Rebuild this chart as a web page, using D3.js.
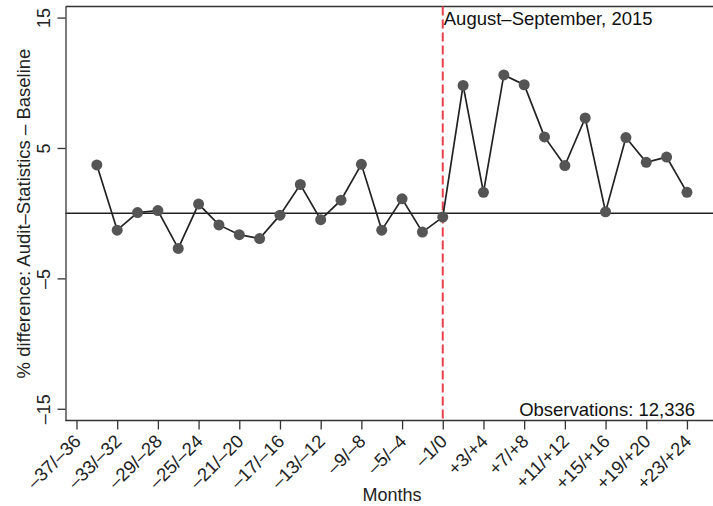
<!DOCTYPE html>
<html>
<head>
<meta charset="utf-8">
<script src="https://cdn.jsdelivr.net/npm/d3@7"></script>
<style>
  body { margin: 0; background: #fff; }
  svg { font-family: "Liberation Sans", Arial, sans-serif; }
</style>
</head>
<body>
<div class="canvas"></div>
<script>
// bimonthly periods relative to the Aug-Sep 2015 event
const periods = [
  "–37/–36", "–35/–34", "–33/–32", "–31/–30", "–29/–28", "–27/–26",
  "–25/–24", "–23/–22", "–21/–20", "–19/–18", "–17/–16", "–15/–14",
  "–13/–12", "–11/–10", "–9/–8", "–7/–6", "–5/–4", "–3/–2", "–1/0",
  "+1/+2", "+3/+4", "+5/+6", "+7/+8", "+9/+10", "+11/+12", "+13/+14",
  "+15/+16", "+17/+18", "+19/+20", "+21/+22", "+23/+24"
];

// % difference, starting at -35/-34 (no value for -37/-36)
const diffValues = [
  3.7, -1.3, 0.05, 0.2, -2.7, 0.7, -0.9, -1.65, -1.95, -0.15, 2.2, -0.5,
  1.0, 3.75, -1.3, 1.1, -1.45, -0.3,
  9.8, 1.6, 10.6, 9.85, 5.85, 3.65, 7.3, 0.1, 5.8, 3.9, 4.3, 1.6
];
const firstDataIndex = 1;

const yTicks = [15, 5, -5, -15];
const eventIndex = 18; // -1/0
const eventLabel = "August–September, 2015";
const obsLabel = "Observations: 12,336";

const width = 713;
const height = 506;

const svg = d3.select(".canvas").append("svg")
  .attr("width", width)
  .attr("height", height);

const x = d3.scaleLinear()
  .domain([-0.54, 31.28])
  .range([65.5, 713]);

const y = d3.scaleLinear()
  .domain([-15.9, 15.85])
  .range([420.5, 6.5]);

const points = diffValues.map((v, i) => ({ idx: i + firstDataIndex, v: v }));

// frame top + zero line
svg.append("line")
  .attr("x1", x.range()[0]).attr("x2", width)
  .attr("y1", y.range()[1]).attr("y2", y.range()[1])
  .attr("stroke", "#333").attr("stroke-width", 1.3);

svg.append("line")
  .attr("x1", x.range()[0]).attr("x2", width)
  .attr("y1", y(0)).attr("y2", y(0))
  .attr("stroke", "#222").attr("stroke-width", 1.5);

// y axis
const yAxis = svg.append("g")
  .attr("transform", "translate(" + x.range()[0] + ",0)")
  .call(d3.axisLeft(y).tickValues(yTicks).tickSize(8).tickSizeOuter(0)
    .tickFormat(d => d < 0 ? "–" + Math.abs(d) : d));
yAxis.select(".domain").attr("stroke", "#333").attr("stroke-width", 1.3);
yAxis.selectAll(".tick line").attr("stroke", "#333").attr("stroke-width", 1.3);
yAxis.selectAll(".tick text")
  .attr("x", 0).attr("y", 0).attr("dy", 0)
  .attr("text-anchor", "middle")
  .attr("transform", "translate(-16,0) rotate(-90)")
  .attr("fill", "#222")
  .style("font-size", "18px");

// x axis
const xAxis = svg.append("g")
  .attr("transform", "translate(0," + y.range()[0] + ")")
  .call(d3.axisBottom(x)
    .tickValues(d3.range(0, periods.length, 2))
    .tickSize(9).tickSizeOuter(0)
    .tickFormat(i => periods[i]));
xAxis.select(".domain").attr("stroke", "#333").attr("stroke-width", 1.3)
  .attr("d", "M" + x.range()[0] + ",0H" + width);
xAxis.selectAll(".tick line").attr("stroke", "#333").attr("stroke-width", 1.3);
xAxis.selectAll(".tick text")
  .attr("x", 0).attr("y", 0).attr("dy", 0)
  .attr("text-anchor", "end")
  .attr("transform", "translate(5,22) rotate(-45)")
  .attr("fill", "#222")
  .style("font-size", "18.5px");

// event marker
svg.append("line")
  .attr("x1", x(eventIndex)).attr("x2", x(eventIndex))
  .attr("y1", y.range()[1]).attr("y2", y.range()[0])
  .attr("stroke", "#e8404c").attr("stroke-width", 2)
  .attr("stroke-dasharray", "9,4");

// series
const line = d3.line()
  .x(d => x(d.idx))
  .y(d => y(d.v));

svg.append("path")
  .datum(points)
  .attr("fill", "none")
  .attr("stroke", "#222")
  .attr("stroke-width", 1.7)
  .attr("d", line);

svg.selectAll("circle")
  .data(points)
  .enter()
  .append("circle")
  .attr("cx", d => x(d.idx))
  .attr("cy", d => y(d.v))
  .attr("r", 5.5)
  .attr("fill", "#555");

// texts
svg.append("text")
  .attr("x", x(eventIndex) + 1)
  .attr("y", 25)
  .attr("fill", "#111")
  .style("font-size", "18.5px")
  .text(eventLabel);

svg.append("text")
  .attr("x", 695)
  .attr("y", 416)
  .attr("text-anchor", "end")
  .attr("fill", "#111")
  .style("font-size", "18.5px")
  .text(obsLabel);

svg.append("text")
  .attr("x", 392)
  .attr("y", 501)
  .attr("text-anchor", "middle")
  .attr("fill", "#222")
  .style("font-size", "18px")
  .text("Months");

svg.append("text")
  .attr("transform", "translate(30," + ((y.range()[0] + y.range()[1]) / 2) + ") rotate(-90)")
  .attr("text-anchor", "middle")
  .attr("fill", "#222")
  .style("font-size", "18.5px")
  .text("% difference: Audit–Statistics – Baseline");
</script>
</body>
</html>
